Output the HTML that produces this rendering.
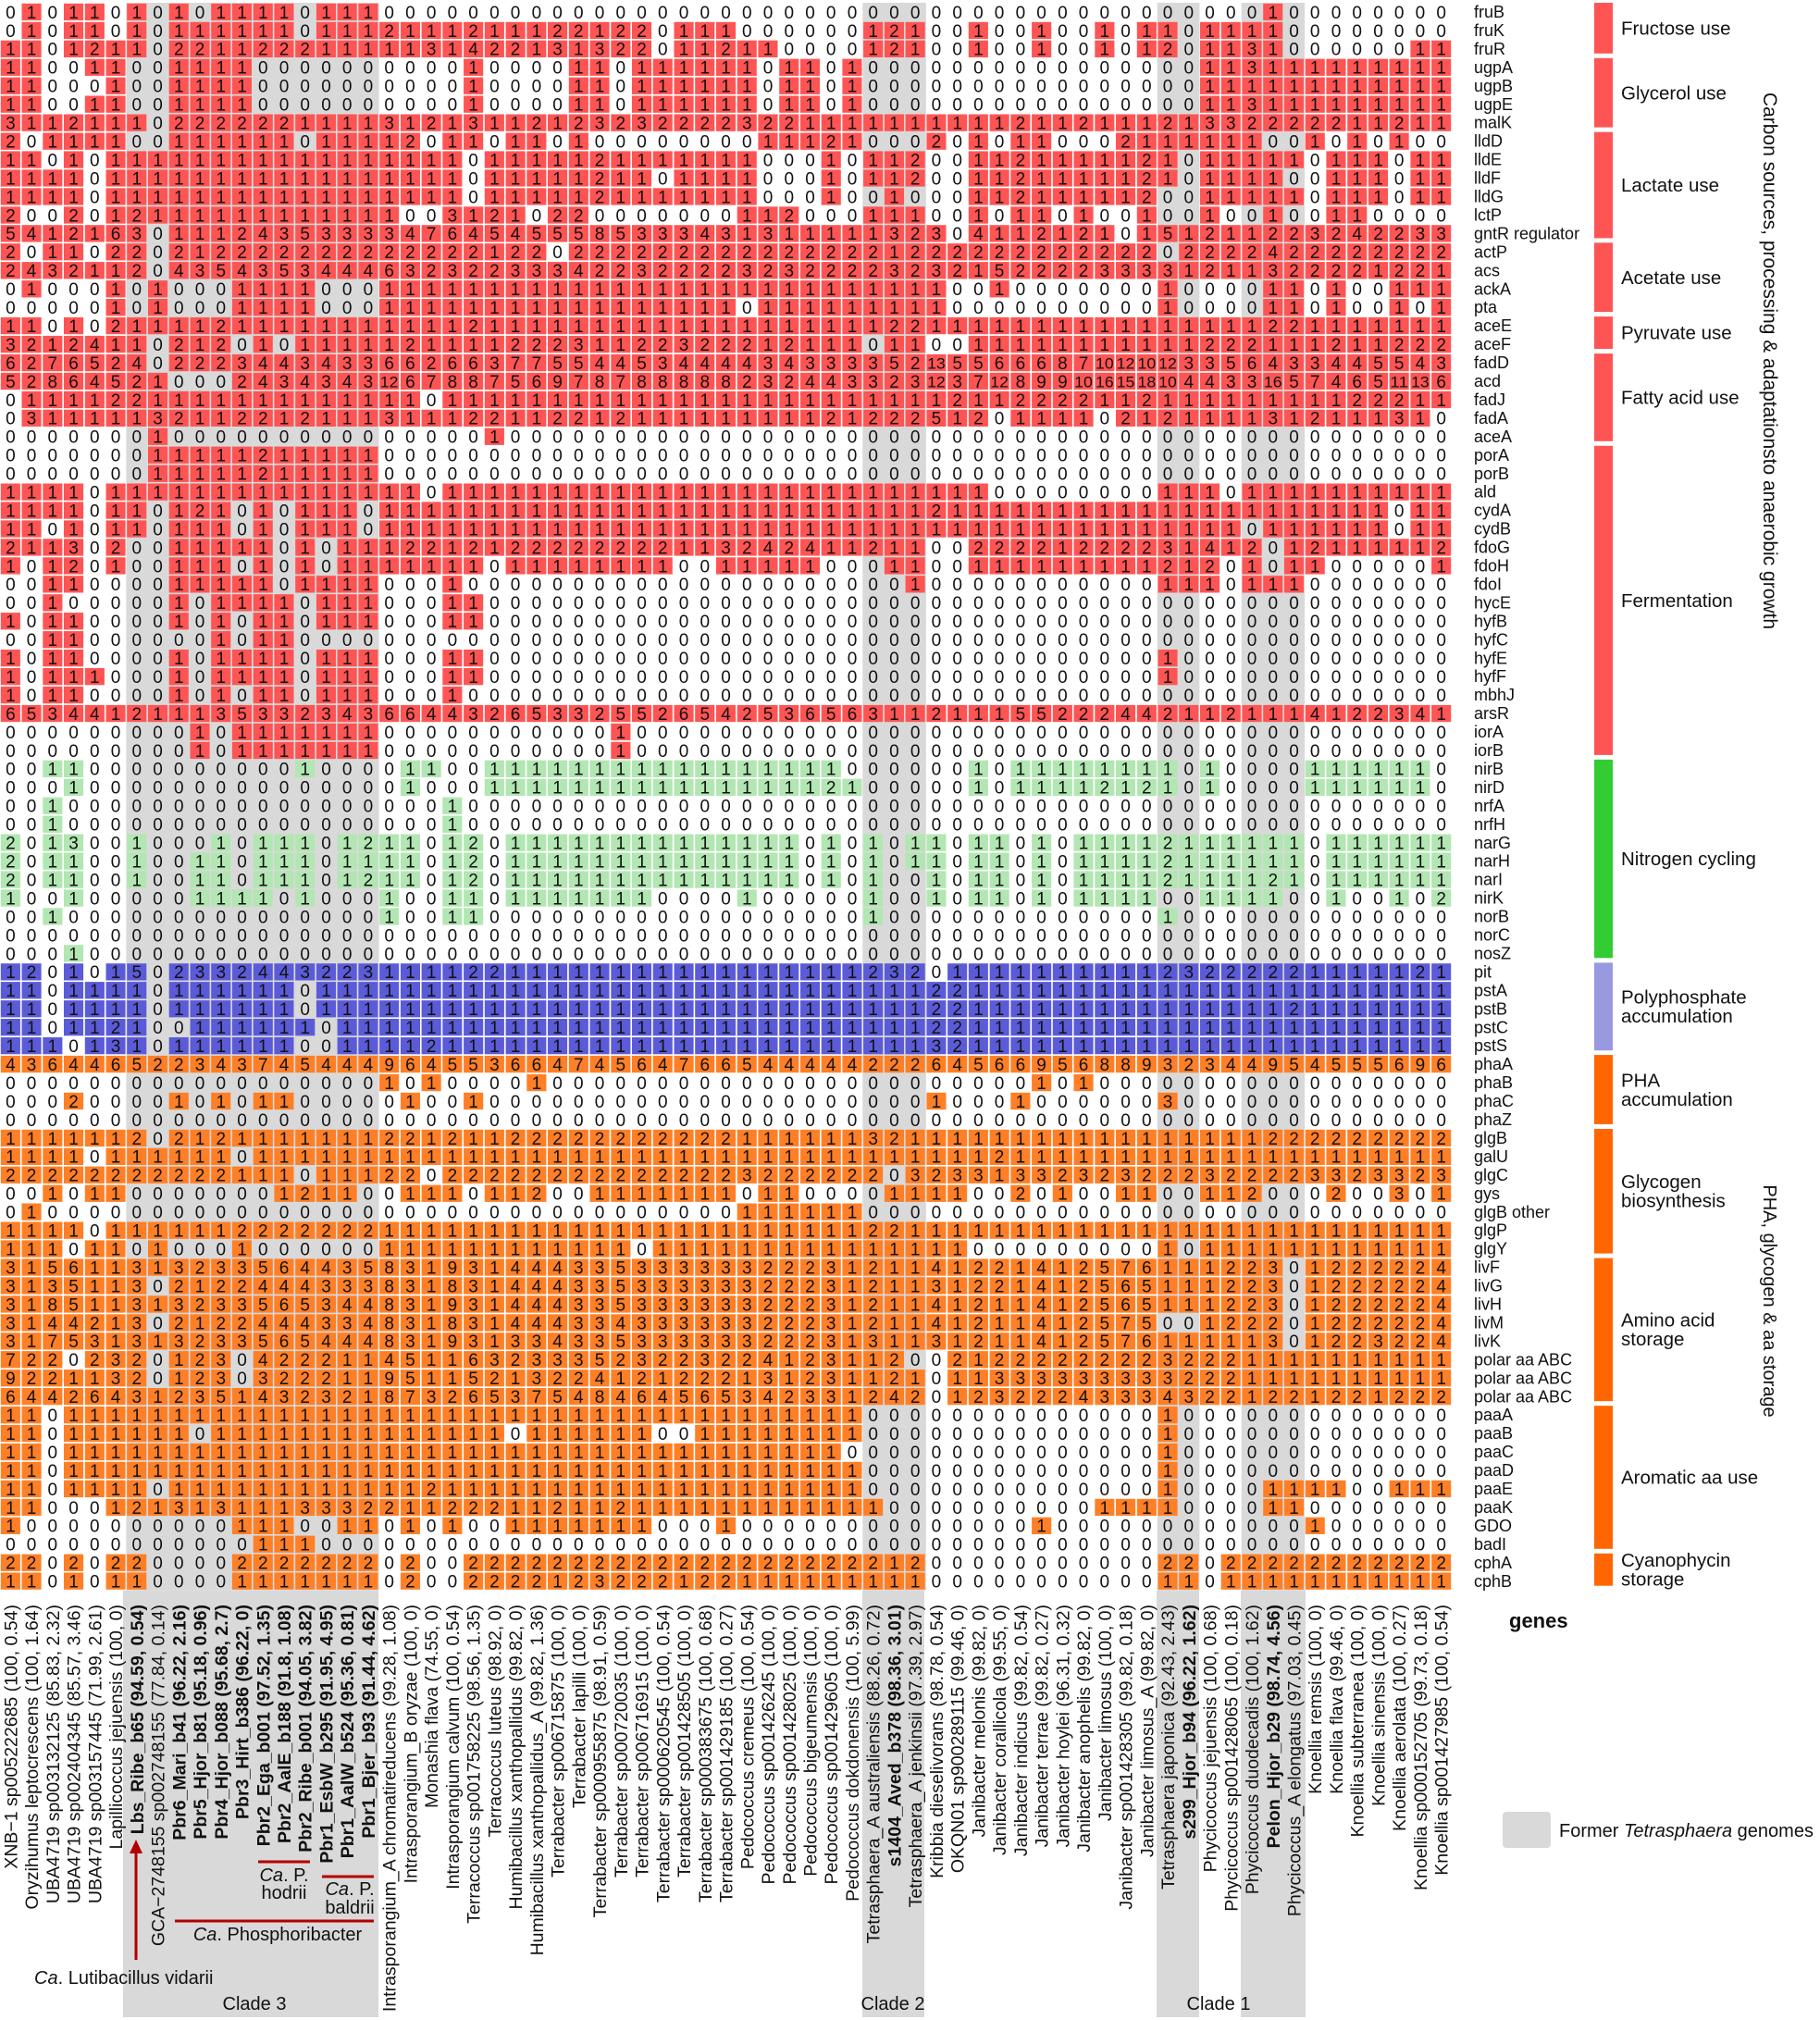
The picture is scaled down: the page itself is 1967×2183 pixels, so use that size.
<!DOCTYPE html>
<html><head><meta charset="utf-8">
<style>
html,body{margin:0;padding:0;background:#fff;}
svg{display:block;font-family:"Liberation Sans",Arial,sans-serif;}
</style></head>
<body>
<svg id="s" width="1967" height="2183" viewBox="0 0 1967 2183" xmlns="http://www.w3.org/2000/svg"></svg>
<script>
const CW=22.74, RH=19.95, Y0=3, NC=69;
function Z(pairs){const a=new Array(NC).fill(0);for(const k in pairs)a[k]=pairs[k];return a;}
function LR(L,R){const l=L.split(' ').map(Number);const r=R.split(' ').map(Number);return l.concat(r.slice(1));}
function Lz(L,extra){const l=L.split(' ').map(Number);while(l.length<35)l.push(0);const r=new Array(34).fill(0);if(extra)for(const k in extra)r[k-1]=extra[k];return l.concat(r);}
const ones=n=>Array(n).fill(1).join(' ');
function rp(pos,def){const a=Array(35).fill(def);for(const k in pos)a[k]=pos[k];return a.join(' ');}
const rows=[];
rows.push(LR("0 1 0 1 1 0 1 0 1 0 1 1 1 1 0 1 1 1 0 0 0 0 0 0 0 0 0 0 0 0 0 0 0 0 0",rp({26:1},0)));
rows.push(LR("0 1 0 1 1 0 1 0 1 1 1 1 1 1 0 1 1 1 2 1 1 1 2 1 1 1 2 2 1 2 2 0 1 1 1","1 0 0 0 0 0 0 1 2 1 0 0 1 0 0 1 0 0 1 0 1 1 0 1 1 1 1 0 0 0 0 0 0 0 0"));
rows.push(LR("1 1 0 1 2 1 1 0 2 2 1 1 2 2 2 1 1 1 1 1 3 1 4 2 2 1 3 1 3 2 2 0 1 1 2","2 1 1 0 0 0 0 1 2 1 0 0 1 0 0 1 0 0 1 0 1 2 0 1 1 3 1 0 0 0 0 0 0 1 1"));
rows.push(LR("1 1 0 0 1 1 0 0 1 1 1 1 0 0 0 0 0 0 0 0 0 0 1 0 0 0 0 1 1 0 1 1 1 1 1","1 1 0 1 1 0 1 0 0 0 0 0 0 0 0 0 0 0 0 0 0 0 0 1 1 3 1 1 1 1 1 1 1 1 1"));
rows.push(LR("1 1 0 0 0 1 0 0 1 1 1 1 0 0 0 0 0 0 0 0 0 0 1 0 0 0 0 1 1 0 1 1 1 1 1","1 1 0 1 1 0 1 0 0 0 0 0 0 0 0 0 0 0 0 0 0 0 0 1 1 1 1 1 1 1 1 1 1 1 1"));
rows.push(LR("1 1 0 0 1 1 0 0 1 1 1 1 0 0 0 0 0 0 0 0 0 0 1 0 0 0 0 1 1 0 1 1 1 1 1","1 1 0 1 1 0 1 0 0 0 0 0 0 0 0 0 0 0 0 0 0 0 0 1 1 3 1 1 1 1 1 1 1 1 1"));
rows.push(LR("3 1 1 2 1 1 1 0 2 2 2 2 2 2 1 1 1 1 3 1 2 1 3 1 1 2 1 2 3 2 3 2 2 2 2","2 3 2 2 1 1 1 1 1 1 1 1 1 1 2 1 1 2 1 1 1 2 1 3 3 2 2 2 2 2 1 1 2 1 1"));
rows.push(LR("2 0 1 1 1 1 0 0 1 1 1 1 1 1 0 1 1 1 1 2 0 1 1 0 1 1 0 1 0 0 0 0 0 0 0","0 0 1 1 1 2 1 0 0 0 2 0 1 0 1 1 0 0 0 2 1 1 1 1 1 1 0 0 1 0 1 0 1 0 0"));
rows.push(LR("1 1 0 1 0 1 1 1 1 1 1 1 1 1 1 1 1 1 1 1 1 1 0 1 1 1 1 1 2 1 1 1 1 1 1","1 1 0 0 0 1 0 1 1 2 0 0 1 1 2 1 1 1 1 1 2 1 0 1 1 1 1 1 0 1 1 1 0 1 1"));
rows.push(LR("1 1 1 1 0 1 1 1 1 1 1 1 1 1 1 1 1 1 1 1 1 1 0 1 1 1 1 1 2 1 1 0 1 1 1","1 1 0 0 0 1 0 1 1 2 0 0 1 1 2 1 1 1 1 1 2 1 0 1 1 1 1 0 0 1 1 1 0 1 1"));
rows.push(LR("1 1 1 1 0 1 1 1 1 1 1 1 1 1 1 1 1 1 1 1 1 1 0 1 1 1 1 1 2 1 1 1 1 1 1","1 1 0 0 0 1 0 0 1 0 0 0 1 1 2 1 1 1 1 1 2 0 0 1 1 1 1 1 0 1 1 1 0 1 1"));
rows.push(LR("2 0 0 2 0 1 2 1 1 1 1 1 1 1 1 1 1 1 1 0 0 3 1 2 1 0 2 2 0 0 0 0 0 0 0","0 1 1 2 0 0 0 1 1 1 0 0 1 0 1 1 0 1 0 0 1 0 0 1 0 0 1 0 0 1 1 0 0 0 0"));
rows.push(LR("5 4 1 2 1 6 3 0 1 1 1 2 4 3 5 3 3 3 3 4 7 6 4 5 4 5 5 5 8 5 3 3 3 4 3","3 1 3 1 1 1 1 1 3 2 3 0 4 1 1 2 1 2 1 0 1 5 1 2 1 1 2 2 3 2 4 2 2 3 3"));
rows.push(LR("2 0 1 1 0 2 2 0 2 1 2 2 2 2 2 2 2 2 2 2 2 2 2 1 2 2 0 2 2 2 2 2 2 2 2","2 2 2 2 2 2 2 2 1 2 2 2 2 2 2 2 2 2 2 2 2 0 2 2 2 2 4 2 2 2 2 2 2 2 2"));
rows.push(LR("2 4 3 2 1 1 2 0 4 3 5 4 3 5 3 4 4 4 6 3 2 3 2 2 3 3 3 4 2 2 3 2 2 2 2","2 3 2 3 2 2 2 2 3 2 3 2 1 5 2 2 2 2 3 3 3 3 1 2 1 1 3 2 2 2 2 1 2 2 1"));
rows.push(LR("0 1 0 0 0 1 0 1 0 0 0 1 1 1 1 0 0 0 1 1 1 1 1 1 1 1 1 1 1 1 1 1 1 1 1","1 1 1 1 1 1 1 1 1 1 1 0 0 1 0 0 0 0 0 0 0 1 0 0 0 0 1 1 0 1 0 0 1 1 1"));
rows.push(LR("0 0 0 0 0 1 0 1 0 0 0 1 1 1 1 0 0 0 1 1 1 1 1 1 1 1 1 1 1 1 1 1 1 1 1","1 0 1 1 1 1 1 1 1 1 1 0 0 0 0 0 0 0 0 0 0 1 0 0 0 0 1 1 0 1 0 0 1 0 1"));
rows.push(LR("1 1 0 1 0 2 1 1 1 1 2 1 1 1 1 1 1 1 1 1 1 1 2 1 1 1 1 1 1 1 1 1 1 1 1","1 1 1 1 1 1 1 1 2 2 1 1 1 1 1 1 1 1 1 1 1 1 1 1 1 1 2 2 1 1 1 1 1 1 1"));
rows.push(LR("3 2 1 2 4 1 1 0 2 1 2 0 1 0 1 1 1 1 1 2 1 1 1 1 2 2 2 3 1 1 2 2 3 2 2","2 2 1 2 1 1 1 0 1 1 0 0 1 1 1 1 1 1 1 1 1 1 1 2 2 2 1 1 1 2 1 1 2 2 2"));
rows.push(LR("6 2 7 6 5 2 4 0 2 2 2 3 4 4 3 4 3 3 6 6 2 6 6 3 7 7 5 5 4 4 5 3 4 4 4","4 4 3 4 3 3 3 3 5 2 13 5 5 6 6 6 8 7 10 12 10 12 3 3 5 6 4 3 3 4 4 5 5 4 3"));
rows.push(LR("5 2 8 6 4 5 2 1 0 0 0 2 4 3 4 3 4 3 12 6 7 8 8 7 5 6 9 7 8 7 8 8 8 8 8","8 2 3 2 4 4 3 3 2 3 12 3 7 12 8 9 9 10 16 15 18 10 4 4 3 3 16 5 7 4 6 5 11 13 6"));
rows.push(LR("0 1 1 1 1 2 2 1 1 1 1 1 1 1 1 1 1 1 1 1 0 1 1 1 1 1 1 1 1 1 1 1 1 1 1","1 1 1 1 1 1 1 1 1 1 1 2 1 1 2 2 2 2 1 1 2 1 1 1 1 1 1 1 1 1 2 2 2 1 1"));
rows.push(LR("0 3 1 1 1 1 1 3 2 1 1 2 2 1 2 1 1 1 3 1 1 1 2 2 1 1 2 2 1 2 1 1 1 1 1","1 1 1 1 1 2 1 2 2 2 5 1 2 0 1 1 1 1 0 2 1 2 1 1 1 1 3 1 2 1 1 1 3 1 0"));
rows.push(Z({7:1,23:1}));
rows.push(Z({7:1,8:1,9:1,10:1,11:1,12:2,13:1,14:1,15:1,16:1,17:1}));
rows.push(Z({7:1,8:1,9:1,10:1,11:1,12:2,13:1,14:1,15:1,16:1,17:1}));
rows.push(LR("1 1 1 1 0 1 1 1 1 1 1 1 1 1 1 1 1 1 1 1 0 1 1 1 1 1 1 1 1 1 1 1 1 1 1","1 1 1 1 1 1 1 1 1 1 1 1 1 0 0 0 0 0 0 0 0 1 1 1 0 1 1 1 1 1 1 1 1 1 1"));
rows.push(LR("1 1 1 1 0 1 1 0 1 2 1 0 1 0 1 1 1 0 1 1 1 1 1 1 1 1 1 1 1 1 1 1 1 1 1","1 1 1 1 1 1 1 1 1 1 2 1 1 1 1 1 1 1 1 1 1 1 1 1 1 1 1 1 1 1 1 1 0 1 1"));
rows.push(LR("1 1 0 1 0 1 1 0 1 1 1 0 1 0 1 1 1 0 1 1 1 1 1 1 1 1 1 1 1 1 1 1 1 1 1","1 1 1 1 1 1 1 1 1 1 1 1 1 1 1 1 1 1 1 1 1 1 1 1 1 0 1 1 1 1 1 1 0 1 1"));
rows.push(LR("2 1 1 3 0 2 0 0 1 1 1 1 1 0 1 0 1 1 1 2 2 1 2 1 2 2 2 2 2 2 2 2 1 1 3","3 2 4 2 4 1 1 2 1 1 0 0 2 2 2 2 1 2 2 2 2 3 1 4 1 2 0 1 2 1 1 1 1 1 2"));
rows.push(LR("1 0 1 2 0 1 0 0 1 1 1 0 1 0 1 0 1 1 1 1 1 1 1 0 1 1 1 1 1 1 1 1 0 0 1","1 1 1 1 1 0 0 0 1 1 0 0 1 1 1 1 1 1 1 1 1 2 1 2 0 1 0 1 1 0 0 0 0 0 1"));
rows.push(LR("0 0 1 1 0 0 0 0 1 1 1 1 1 0 1 1 1 1 0 0 0 1 0 0 0 0 0 0 0 0 0 0 0 0 0","0 0 0 0 0 0 0 0 0 1 0 0 0 0 0 0 0 0 0 0 0 1 1 1 0 1 1 1 0 0 0 0 0 0 0"));
rows.push(Lz("0 0 1 0 0 0 0 0 1 0 1 1 1 1 0 1 1 1 0 0 0 1 1"));
rows.push(Lz("1 0 1 1 0 0 0 0 1 0 1 0 1 1 0 1 1 1 0 0 0 1 1"));
rows.push(Lz("0 0 1 1 0 0 0 0 0 0 1 0 1 1 0 0 0 0 0"));
rows.push(Lz("1 0 1 1 0 0 0 0 1 0 1 1 1 1 0 1 1 1 0 0 0 1 1",{21:1}));
rows.push(Lz("1 0 1 1 1 0 0 0 1 0 1 1 1 1 0 1 1 1 0 0 0 1 1",{21:1}));
rows.push(Lz("1 0 1 1 0 0 0 0 1 0 1 0 1 1 0 1 1 1 0 0 0 1 0"));
rows.push(LR("6 5 3 4 4 1 2 1 1 1 3 5 3 3 2 3 4 3 6 6 4 4 3 2 6 5 3 3 2 5 5 2 6 5 4","4 2 5 3 6 5 6 3 1 1 2 1 1 1 5 5 2 2 2 4 4 2 1 1 2 1 1 1 4 1 2 2 3 4 1"));
rows.push(Lz("0 0 0 0 0 0 0 0 0 1 0 1 1 1 1 1 1 1 0 0 0 0 0 0 0 0 0 0 0 1"));
rows.push(Lz("0 0 0 0 0 0 0 0 0 1 0 1 1 1 1 1 1 1 0 0 0 0 0 0 0 0 0 0 0 1"));
rows.push(LR("0 0 1 1 0 0 0 0 0 0 0 0 0 0 1 0 0 0 0 1 1 0 0 1 1 1 1 1 1 1 1 1 1 1 1","1 1 1 1 1 1 0 0 0 0 0 0 1 0 1 1 1 1 1 1 1 1 0 1 0 0 0 0 1 1 1 1 1 1 0"));
rows.push(LR("0 0 0 1 0 0 0 0 0 0 0 0 0 0 0 0 0 0 0 1 0 0 0 1 1 1 1 1 1 1 1 1 1 1 1","1 1 1 1 1 2 1 0 0 0 0 0 1 0 1 1 1 1 2 1 2 1 0 1 0 0 0 0 1 1 1 1 1 1 0"));
rows.push(Z({2:1,21:1}));
rows.push(Z({2:1,21:1}));
rows.push(LR("2 0 1 3 0 0 1 0 0 0 1 0 1 1 1 0 1 2 1 1 0 1 2 0 1 1 1 1 1 1 1 1 1 1 1","1 1 1 1 0 1 0 1 0 1 1 0 1 1 0 1 0 1 1 1 1 2 1 1 1 1 1 1 0 1 1 1 1 1 1"));
rows.push(LR("2 0 1 1 0 0 1 0 0 1 1 0 1 1 1 0 1 1 1 1 0 1 2 0 1 1 1 1 1 1 1 1 1 1 1","1 1 1 1 0 1 0 1 0 1 1 0 1 1 0 1 0 1 1 1 1 2 1 1 1 1 1 1 0 1 1 1 1 1 1"));
rows.push(LR("2 0 1 1 0 0 1 0 0 1 1 0 1 1 1 0 1 2 1 1 0 1 2 0 1 1 1 1 1 1 1 1 1 1 1","1 1 1 1 0 1 0 1 0 0 1 0 1 1 0 1 0 1 1 1 1 2 1 1 1 1 2 1 0 1 1 1 1 1 1"));
rows.push(LR("1 0 0 1 0 0 0 0 0 1 1 1 1 0 1 0 0 0 1 0 0 1 1 0 1 1 1 1 1 1 1 0 0 0 0","0 1 0 0 0 0 0 1 0 0 1 0 1 1 0 1 0 1 1 1 1 0 0 1 1 1 1 0 0 1 0 0 1 0 2"));
rows.push(Z({2:1,18:1,21:1,22:1,41:1,55:1}));
rows.push(Z({}));
rows.push(Z({3:1}));
rows.push(LR("1 2 0 1 0 1 5 0 2 3 3 2 4 4 3 2 2 3 1 1 1 1 2 2 1 1 1 1 1 1 1 1 1 1 1","1 1 1 1 1 1 1 2 3 2 0 1 1 1 1 1 1 1 1 1 1 2 3 2 2 2 2 2 1 1 1 1 1 2 1"));
rows.push(LR("1 1 0 1 1 1 1 0 1 1 1 1 1 1 0 1 1 1 "+ones(17),rp({10:2,11:2},1)));
rows.push(LR("1 1 0 1 1 1 1 0 1 1 1 1 1 1 0 1 1 1 "+ones(17),rp({10:2,11:2,27:2},1)));
rows.push(LR("1 1 0 1 1 2 1 0 0 1 1 1 1 1 1 0 1 1 "+ones(17),rp({10:2,11:2},1)));
rows.push(LR("1 1 1 0 1 3 1 0 1 1 1 1 1 1 0 0 1 1 1 1 2 "+ones(14),rp({10:3,11:2},1)));
rows.push(LR("4 3 6 4 4 6 5 2 2 3 4 3 7 4 5 4 4 4 9 6 4 5 5 3 6 6 4 7 4 5 6 4 7 6 6","6 5 4 4 4 4 4 2 2 2 6 4 5 6 6 9 5 6 8 8 9 3 2 3 4 4 9 5 4 5 5 5 6 9 6"));
rows.push(Z({18:1,20:1,25:1,49:1,51:1}));
rows.push(Z({3:2,8:1,10:1,12:1,13:1,19:1,22:1,44:1,48:1,55:3}));
rows.push(Z({}));
rows.push(LR("1 1 1 1 1 1 2 0 2 1 2 1 1 1 1 1 1 1 2 2 1 2 1 1 2 2 2 2 2 2 2 2 2 2 2","2 1 1 1 1 1 1 3 2 1 1 1 1 1 1 1 1 1 1 1 1 1 1 1 1 1 2 2 2 2 2 2 2 2 2"));
rows.push(LR("1 1 1 1 0 1 1 1 1 1 1 0 "+ones(23),rp({13:2},1)));
rows.push(LR("2 2 2 2 2 2 2 2 2 2 2 1 1 1 0 1 1 1 2 2 0 2 2 2 2 2 2 2 2 2 2 2 2 2 2","2 3 2 2 2 2 2 2 0 3 2 3 3 1 3 3 2 3 2 3 2 2 2 3 2 2 2 2 3 3 2 3 3 2 3"));
rows.push(LR("0 0 1 0 1 1 0 0 0 0 0 0 0 1 2 1 1 0 0 1 1 1 0 1 1 2 0 0 1 1 1 1 1 1 1","1 0 1 1 0 0 0 0 1 1 1 1 0 0 2 0 1 0 0 1 1 0 0 1 1 2 0 0 0 2 0 0 3 0 1"));
rows.push(Z({1:1,35:1,36:1,37:1,38:1,39:1,40:1}));
rows.push(LR("1 1 1 1 0 1 1 1 1 1 1 2 2 2 2 2 2 2 "+ones(17),rp({7:2,8:2},1)));
rows.push(LR("1 1 1 0 1 1 0 1 0 0 0 1 0 0 0 0 0 0 1 1 1 1 1 1 1 1 1 1 1 1 0 1 1 1 1","1 1 1 1 1 1 1 1 1 1 1 1 0 0 0 0 0 0 0 0 0 1 0 1 1 1 1 1 1 1 1 1 1 1 1"));
rows.push(LR("3 1 5 6 1 1 3 1 3 2 3 3 5 6 4 4 3 5 8 3 1 9 3 1 4 4 4 3 3 5 3 3 3 3 3","3 3 2 2 2 3 1 2 1 1 4 1 2 2 1 4 1 2 5 7 6 1 1 1 2 2 3 0 1 2 2 2 2 2 4"));
rows.push(LR("3 1 3 5 1 1 3 0 2 1 2 2 4 4 4 3 3 3 8 3 1 8 3 1 4 4 4 3 3 5 3 3 3 3 3","3 3 2 2 2 3 1 2 1 1 3 1 2 2 1 4 1 2 5 6 5 1 1 1 2 2 3 0 1 2 2 2 2 2 4"));
rows.push(LR("3 1 8 5 1 1 3 1 3 2 3 3 5 6 5 3 4 4 8 3 1 9 3 1 4 4 4 3 3 5 3 3 3 3 3","3 3 2 2 2 3 1 2 1 1 4 1 2 1 1 4 1 2 5 6 5 1 1 1 2 2 3 0 1 2 2 2 2 2 4"));
rows.push(LR("3 1 4 4 2 1 3 0 2 1 2 2 4 4 4 3 3 4 8 3 1 8 3 1 4 4 4 3 3 4 3 3 3 3 3","3 3 2 2 2 3 1 2 1 1 4 1 2 1 1 4 1 2 5 7 5 0 0 1 2 2 2 0 1 2 2 2 2 2 4"));
rows.push(LR("3 1 7 5 3 1 3 1 3 2 3 3 5 6 5 4 4 4 8 3 1 9 3 1 3 3 4 3 3 5 3 3 3 3 3","3 3 2 2 2 3 1 3 1 1 3 1 2 1 1 4 1 2 5 7 6 1 1 1 1 1 3 0 1 2 2 3 2 2 4"));
rows.push(LR("7 2 2 0 2 3 2 0 1 2 3 0 4 2 2 2 1 1 4 5 1 1 6 3 2 3 3 3 5 2 3 2 2 3 2","2 2 4 1 2 3 1 1 2 0 0 2 1 2 2 2 2 2 2 2 2 3 2 2 2 1 1 1 1 1 1 1 1 1 1"));
rows.push(LR("9 2 2 1 1 3 2 0 1 2 3 0 3 2 2 2 1 1 9 5 1 1 5 2 1 3 2 2 4 1 2 1 2 2 2","2 1 3 1 2 3 1 1 2 1 0 1 1 3 3 3 3 3 3 3 3 3 2 2 2 1 1 1 1 1 1 1 1 1 1"));
rows.push(LR("6 4 4 2 6 4 3 1 2 3 5 1 4 3 2 3 2 1 8 7 3 2 6 5 3 7 5 4 8 4 6 4 5 6 5","5 3 4 2 3 3 1 2 4 2 0 1 2 3 2 2 2 4 3 3 3 4 3 2 2 1 2 2 1 2 2 1 2 2 2"));
rows.push(LR("1 1 0 "+ones(32),rp({0:1,1:1,2:1,3:1,4:1,5:1,6:1,21:1},0)));
rows.push(LR("1 1 0 1 1 1 1 1 1 0 1 1 1 1 1 1 1 1 1 1 1 1 1 1 0 1 1 1 1 1 1 0 0 1 1",rp({0:1,1:1,2:1,3:1,4:1,5:1,6:1,21:1},0)));
rows.push(LR("1 1 0 "+ones(32),rp({0:1,1:1,2:1,3:1,4:1,5:1,21:1},0)));
rows.push(LR("1 1 0 "+ones(32),rp({0:1,1:1,2:1,3:1,4:1,5:1,6:1,21:1},0)));
rows.push(LR("1 1 0 1 1 1 1 0 1 1 1 1 1 1 1 1 1 1 1 1 2 "+ones(14),rp({0:1,1:1,2:1,3:1,4:1,5:1,6:1,21:1,26:1,27:1,28:1,29:1,32:1,33:1,34:1},0)));
rows.push(LR("1 1 0 0 0 1 2 1 3 1 3 1 1 1 3 3 3 2 2 1 1 2 2 2 1 1 2 1 1 2 1 1 1 1 1",rp({0:1,1:1,2:1,3:1,4:1,5:1,6:1,7:1,18:1,19:1,20:1,21:1,26:1,27:1},0)));
rows.push(LR("1 0 0 0 0 0 0 0 0 0 0 1 1 1 0 0 1 1 0 1 0 1 0 0 1 1 1 1 1 1 1 0 0 0 1",rp({0:1,15:1,28:1},0)));
rows.push(Z({12:1,13:1,14:1}));
rows.push(LR("2 2 0 2 0 2 2 0 0 0 0 2 2 2 2 2 2 2 0 2 0 0 2 2 2 2 2 2 2 2 2 2 2 2 2","2 2 2 2 2 2 2 2 1 2 0 0 0 0 0 0 0 0 0 0 0 2 2 0 2 2 2 2 2 2 2 2 2 2 2"));
rows.push(LR("1 1 0 1 0 1 1 0 0 0 0 1 1 1 1 1 1 1 0 2 0 0 2 2 2 2 1 2 3 2 2 2 1 2 2","2 1 1 1 1 1 1 1 1 1 0 0 0 0 0 0 0 0 0 0 0 1 1 0 1 1 1 1 1 1 1 1 1 1 1"));

const genes=["fruB","fruK","fruR","ugpA","ugpB","ugpE","malK","lldD","lldE","lldF","lldG","lctP","gntR regulator","actP","acs","ackA","pta","aceE","aceF","fadD","acd","fadJ","fadA","aceA","porA","porB","ald","cydA","cydB","fdoG","fdoH","fdoI","hycE","hyfB","hyfC","hyfE","hyfF","mbhJ","arsR","iorA","iorB","nirB","nirD","nrfA","nrfH","narG","narH","narI","nirK","norB","norC","nosZ","pit","pstA","pstB","pstC","pstS","phaA","phaB","phaC","phaZ","glgB","galU","glgC","gys","glgB other","glgP","glgY","livF","livG","livH","livM","livK","polar aa ABC","polar aa ABC","polar aa ABC","paaA","paaB","paaC","paaD","paaE","paaK","GDO","badI","cphA","cphB"];
const species=["XNB\u22121 sp005222685 (100, 0.54)","Oryzihumus leptocrescens (100, 1.64)","UBA4719 sp003132125 (85.83, 2.32)","UBA4719 sp002404345 (85.57, 3.46)","UBA4719 sp003157445 (71.99, 2.61)","Lapillicoccus jejuensis (100, 0)","Lbs_Ribe_b65 (94.59, 0.54)","GCA\u22122748155 sp002748155 (77.84, 0.14)","Pbr6_Mari_b41 (96.22, 2.16)","Pbr5_Hjor_b81 (95.18, 0.96)","Pbr4_Hjor_b088 (95.68, 2.7)","Pbr3_Hirt_b386 (96.22, 0)","Pbr2_Ega_b001 (97.52, 1.35)","Pbr2_AalE_b188 (91.8, 1.08)","Pbr2_Ribe_b001 (94.05, 3.82)","Pbr1_EsbW_b295 (91.95, 4.95)","Pbr1_AalW_b524 (95.36, 0.81)","Pbr1_Bjer_b93 (91.44, 4.62)","Intrasporangium_A chromatireducens (99.28, 1.08)","Intrasporangium_B oryzae (100, 0)","Monashia flava (74.55, 0)","Intrasporangium calvum (100, 0.54)","Terracoccus sp001758225 (98.56, 1.35)","Terracoccus luteus (98.92, 0)","Humibacillus xanthopallidus (99.82, 0)","Humibacillus xanthopallidus_A (99.82, 1.36)","Terrabacter sp006715875 (100, 0)","Terrabacter lapilli (100, 0)","Terrabacter sp000955875 (98.91, 0.59)","Terrabacter sp000720035 (100, 0)","Terrabacter sp006716915 (100, 0)","Terrabacter sp000620545 (100, 0.54)","Terrabacter sp001428505 (100, 0)","Terrabacter sp000383675 (100, 0.68)","Terrabacter sp001429185 (100, 0.27)","Pedococcus cremeus (100, 0.54)","Pedococcus sp001426245 (100, 0)","Pedococcus sp001428025 (100, 0)","Pedococcus bigeumensis (100, 0)","Pedococcus sp001429605 (100, 0)","Pedococcus dokdonensis (100, 5.99)","Tetrasphaera_A australiensis (88.26, 0.72)","s1404_Aved_b378 (98.36, 3.01)","Tetrasphaera_A jenkinsii (97.39, 2.97)","Kribbia dieselivorans (98.78, 0.54)","OKQN01 sp900289115 (99.46, 0)","Janibacter melonis (99.82, 0)","Janibacter corallicola (99.55, 0)","Janibacter indicus (99.82, 0.54)","Janibacter terrae (99.82, 0.27)","Janibacter hoylei (96.31, 0.32)","Janibacter anophelis (99.82, 0)","Janibacter limosus (100, 0)","Janibacter sp001428305 (99.82, 0.18)","Janibacter limosus_A (99.82, 0)","Tetrasphaera japonica (92.43, 2.43)","s299_Hjor_b94 (96.22, 1.62)","Phycicoccus jejuensis (100, 0.68)","Phycicoccus sp001428065 (100, 0.18)","Phycicoccus duodecadis (100, 1.62)","Pelon_Hjor_b29 (98.74, 4.56)","Phycicoccus_A elongatus (97.03, 0.45)","Knoellia remsis (100, 0)","Knoellia flava (99.46, 0)","Knoellia subterranea (100, 0)","Knoellia sinensis (100, 0)","Knoellia aerolata (100, 0.27)","Knoellia sp000152705 (99.73, 0.18)","Knoellia sp001427985 (100, 0.54)"];
const bold=new Set([6,8,9,10,11,12,13,14,15,16,17,42,56,60]);
const grayCols=new Set([6,7,8,9,10,11,12,13,14,15,16,17,41,42,43,55,56,59,60,61]);
function rowColor(r){if(r<=40)return"#ff5454";if(r<=51)return"#b2e6b2";if(r<=56)return"#5b5bd8";return"#ff7f27";}
let h='';
const GBOT=Y0+86*RH;
for(const c of grayCols){h+=`<rect x="${(c*CW).toFixed(1)}" y="${Y0}" width="${(CW+0.3).toFixed(1)}" height="${(86*RH).toFixed(1)}" fill="#d9d9d9"/>`;}
[[133,409],[932,999],[1250,1296],[1341,1411]].forEach(b=>{h+=`<rect x="${b[0]}" y="${GBOT.toFixed(1)}" width="${b[1]-b[0]}" height="${(2180-GBOT).toFixed(1)}" fill="#d9d9d9"/>`;});
for(let r=0;r<86;r++){const row=rows[r];const y=Y0+r*RH;const col=rowColor(r);
 for(let c=0;c<NC;c++){const v=row[c]||0;const x=c*CW;
  if(v>0)h+=`<rect x="${(x+0.8).toFixed(1)}" y="${(y+0.8).toFixed(1)}" width="${(CW-1.6).toFixed(1)}" height="${(RH-1.6).toFixed(1)}" fill="${col}"/>`;
  if(v>=10) h+=`<text x="${(x+1.5).toFixed(1)}" y="${(y+16.5).toFixed(1)}" font-size="17" textLength="${(CW-3).toFixed(1)}" lengthAdjust="spacingAndGlyphs" fill="#111">${v}</text>`;
  else h+=`<text x="${(x+CW/2).toFixed(1)}" y="${(y+16.8).toFixed(1)}" font-size="19" text-anchor="middle" fill="#111">${v}</text>`;
 }
 h+=`<text x="1593" y="${(y+16).toFixed(1)}" font-size="18" fill="#111">${genes[r]}</text>`;
}
for(let c=0;c<NC;c++){const cx=c*CW+CW/2+7;
 h+=`<text transform="translate(${cx.toFixed(1)},1734) rotate(-90)" font-size="19.5" text-anchor="end" fill="#111"${bold.has(c)?' font-weight="bold"':''}>${species[c]}</text>`;}
const cats=[[0,2,"#ff5454",["Fructose use"]],[3,6,"#ff5454",["Glycerol use"]],[7,12,"#ff5454",["Lactate use"]],[13,16,"#ff5454",["Acetate use"]],[17,18,"#ff5454",["Pyruvate use"]],[19,23,"#ff5454",["Fatty acid use"]],[24,40,"#ff5454",["Fermentation"]],[41,51,"#33cc33",["Nitrogen cycling"]],[52,56,"#9999e0",["Polyphosphate","accumulation"]],[57,60,"#ff6600",["PHA","accumulation"]],[61,67,"#ff6600",["Glycogen","biosynthesis"]],[68,75,"#ff6600",["Amino acid","storage"]],[76,83,"#ff6600",["Aromatic aa use"]],[84,85,"#ff6600",["Cyanophycin","storage"]]];
cats.forEach(k=>{const y1=Y0+k[0]*RH, y2=Y0+(k[1]+1)*RH-5;
 h+=`<rect x="1723" y="${y1.toFixed(1)}" width="20" height="${(y2-y1).toFixed(1)}" fill="${k[2]}"/>`;
 const cy=(y1+y2)/2; const n=k[3].length;
 k[3].forEach((t,i)=>{const yy=cy+7+(i-(n-1)/2)*20.5;h+=`<text x="1752" y="${yy.toFixed(1)}" font-size="20.5" fill="#111">${t}</text>`;});
});
h+=`<text transform="translate(1906,390) rotate(90)" font-size="21" text-anchor="middle" fill="#111">Carbon sources, processing &amp; adaptationsto anaerobic growth</text>`;
h+=`<text transform="translate(1906,1406) rotate(90)" font-size="20" text-anchor="middle" fill="#111">PHA, glycogen &amp; aa storage</text>`;
h+=`<text x="1631" y="1759" font-size="22" font-weight="bold" fill="#111">genes</text>`;
h+=`<rect x="1624" y="1958" width="52" height="39" rx="4" fill="#d9d9d9"/>`;
h+=`<text x="1685" y="1985" font-size="20" fill="#111">Former <tspan font-style="italic">Tetrasphaera</tspan> genomes</text>`;
const red="#b30000";
h+=`<line x1="147" y1="2118" x2="147" y2="2000" stroke="${red}" stroke-width="3"/><polygon points="140,2003 154,2003 147,1988" fill="${red}"/>`;
h+=`<text x="37" y="2144" font-size="20" fill="#111"><tspan font-style="italic">Ca</tspan>. Lutibacillus vidarii</text>`;
h+=`<line x1="189" y1="2076" x2="404" y2="2076" stroke="${red}" stroke-width="3"/>`;
h+=`<text x="300" y="2097" font-size="20" text-anchor="middle" fill="#111"><tspan font-style="italic">Ca</tspan>. Phosphoribacter</text>`;
h+=`<line x1="279" y1="2012" x2="335" y2="2012" stroke="${red}" stroke-width="3"/>`;
h+=`<text x="307" y="2033" font-size="20" text-anchor="middle" fill="#111"><tspan font-style="italic">Ca</tspan>. P.</text><text x="307" y="2052" font-size="20" text-anchor="middle" fill="#111">hodrii</text>`;
h+=`<line x1="348" y1="2028" x2="404" y2="2028" stroke="${red}" stroke-width="3"/>`;
h+=`<text x="378" y="2048" font-size="20" text-anchor="middle" fill="#111"><tspan font-style="italic">Ca</tspan>. P.</text><text x="378" y="2068" font-size="20" text-anchor="middle" fill="#111">baldrii</text>`;
h+=`<text x="275" y="2172" font-size="20" text-anchor="middle" fill="#111">Clade 3</text>`;
h+=`<text x="965" y="2172" font-size="20" text-anchor="middle" fill="#111">Clade 2</text>`;
h+=`<text x="1317" y="2172" font-size="20" text-anchor="middle" fill="#111">Clade 1</text>`;
document.getElementById('s').innerHTML=h;
</script>
</body></html>
